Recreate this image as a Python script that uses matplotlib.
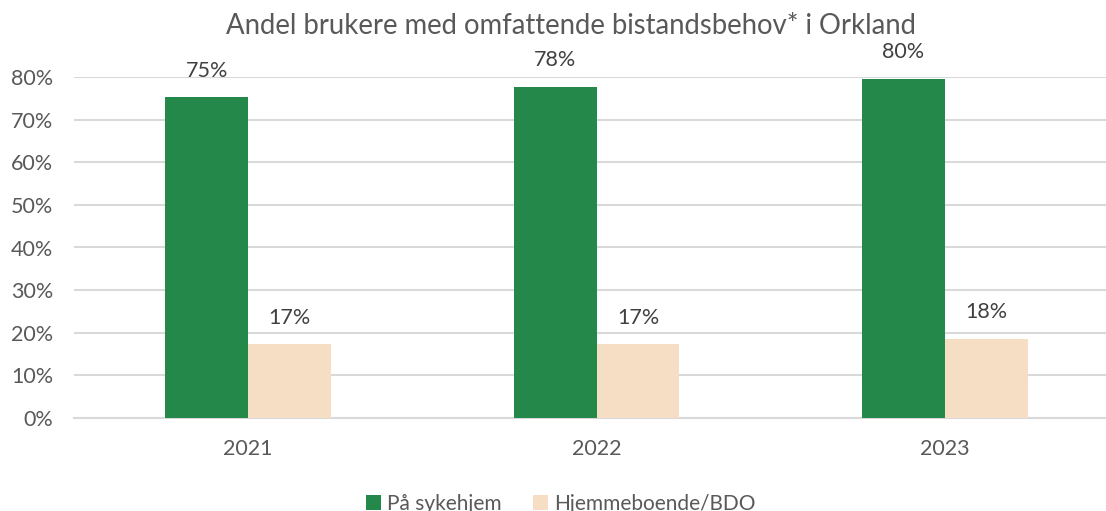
import matplotlib
matplotlib.use("Agg")
import matplotlib.pyplot as plt
from matplotlib.patches import Patch
import numpy as np

years = ["2021", "2022", "2023"]
sykehjem = [0.752, 0.777, 0.795]
hjemme = [0.173, 0.173, 0.185]
sykehjem_labels = ["75%", "78%", "80%"]
hjemme_labels = ["17%", "17%", "18%"]
series_names = ["På sykehjem", "Hjemmeboende/BDO"]
yticks = [0, 0.1, 0.2, 0.3, 0.4, 0.5, 0.6, 0.7, 0.8]
ytick_labels = ["0%", "10%", "20%", "30%", "40%", "50%", "60%", "70%", "80%"]

GREEN = "#23884A"
PEACH = "#F6DEC4"
TXT = "#595959"
GRID = "#D9D9D9"

plt.rcParams['font.family'] = ['Lato', 'DejaVu Sans']

fig = plt.figure(figsize=(11.06, 5.11), dpi=100)
W, H = 1106, 511
ax = fig.add_axes([74 / W, (H - 418) / H, 1045 / W, 341 / H])

x = np.arange(len(years))
bw = 0.238
b1 = ax.bar(x - bw / 2, sykehjem, bw, color=GREEN, zorder=3)
b2 = ax.bar(x + bw / 2, hjemme, bw, color=PEACH, zorder=3)

for bars, labels in ((b1, sykehjem_labels), (b2, hjemme_labels)):
    for rect, lab in zip(bars, labels):
        ax.annotate(lab, (rect.get_x() + rect.get_width() / 2, rect.get_height()),
                    xytext=(0, 12), textcoords="offset points", ha="center", va="bottom",
                    fontsize=15.5, color="#404040", annotation_clip=False)

ax.set_xlim(-0.5, 2.5)
ax.set_ylim(0, 0.8)
ax.set_yticks(yticks)
ax.set_yticklabels(ytick_labels)
ax.set_xticks(x)
ax.set_xticklabels(years)
ax.tick_params(axis="both", length=0, labelsize=15.5, colors=TXT)
ax.tick_params(axis="y", pad=15)
ax.tick_params(axis="x", pad=15)
ax.grid(axis="y", color=GRID, linewidth=1.5, zorder=0)
ax.set_axisbelow(True)
for s in ["top", "right", "left"]:
    ax.spines[s].set_visible(False)
ax.spines["bottom"].set_color(GRID)
ax.spines["bottom"].set_linewidth(1.5)

fig.text(571 / W, 1 - 26 / H, "Andel brukere med omfattende bistandsbehov* i Orkland",
         ha="center", va="center", fontsize=19.8, color=TXT)

handles = [Patch(facecolor=GREEN, edgecolor="none"), Patch(facecolor=PEACH, edgecolor="none")]
fig.legend(handles, series_names, loc="center", bbox_to_anchor=(561 / W, 1 - 504 / H),
           ncol=2, frameon=False, fontsize=15, handlelength=0.7, handleheight=0.7,
           handletextpad=0.3, columnspacing=1.5, labelcolor=TXT)

fig.savefig("out.png", dpi=100)
